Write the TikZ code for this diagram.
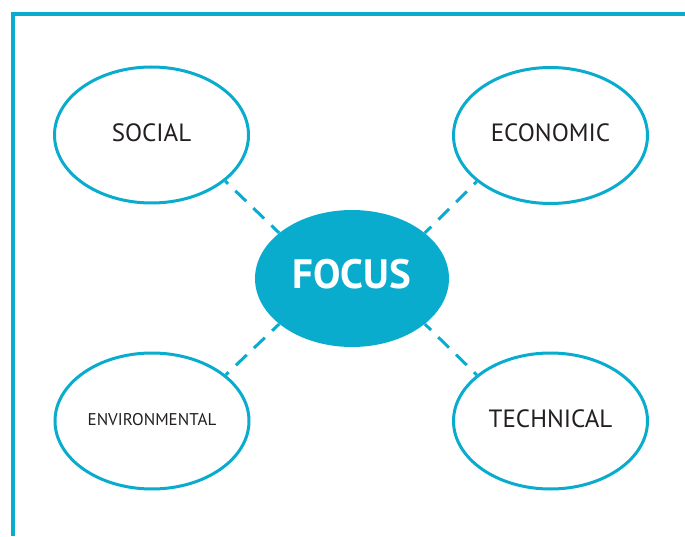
\documentclass[tikz,border=0pt]{standalone}
\usepackage{fontspec}
\setmainfont{PT Sans}
\usetikzlibrary{shapes.geometric}
\definecolor{cyanline}{HTML}{0AACCE}
\definecolor{txt}{HTML}{231F20}
\tikzset{
  aspect/.style={ellipse, draw=cyanline, line width=3pt, fill=white, inner sep=0pt,
    minimum width=194pt, minimum height=136pt, text=txt, text height=12.5pt, text depth=0pt,
    font=\fontsize{25}{25}\selectfont},
  focusbox/.style={ellipse, fill=cyanline, inner sep=0pt, minimum width=194pt, minimum height=137pt,
    text=white, font=\fontsize{41}{41}\selectfont\bfseries, text height=20.5pt, text depth=0pt},
  link/.style={draw=cyanline, line width=3pt, dash pattern=on 15pt off 10pt, dash phase=11pt},
  frame/.style={draw=cyanline, line width=3.5pt}
}
\begin{document}
\begin{tikzpicture}[x=1pt,y=1pt]
\useasboundingbox (0,0) rectangle (685,536);
\coordinate (fb) at (13,0);
\coordinate (fc) at (13,522);
\coordinate (fr) at (685,522);
\draw[frame] (fb) -- (fc) -- (fr);
\node[focusbox] (focus) at (352,257.5) {FOCUS};
\node[aspect] (social) at (151.5,401) {SOCIAL};
\node[aspect] (economic) at (550.5,400.5) {ECONOMIC};
\node[aspect, font=\fontsize{17}{17}\selectfont, text height=8.5pt] (env) at (152,115) {ENVIRONMENTAL};
\node[aspect] (tech) at (550.5,115) {TECHNICAL};
\draw[link] (social.-32) -- (focus.148);
\draw[link] (economic.212) -- (focus.32);
\draw[link] (env.32) -- (focus.212);
\draw[link] (tech.148) -- (focus.-32);
\end{tikzpicture}
\end{document}
